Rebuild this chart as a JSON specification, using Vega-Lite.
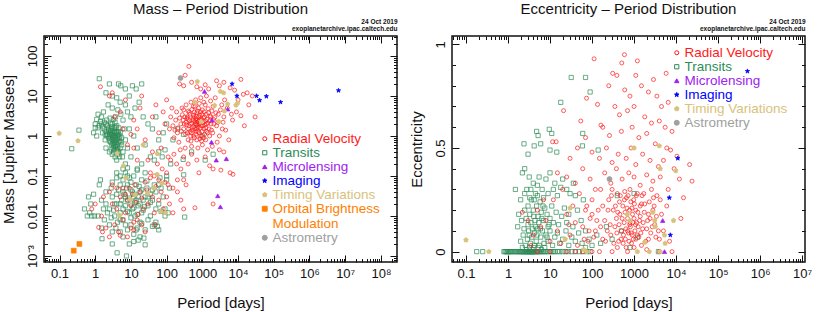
{
"$schema":"https://vega.github.io/schema/vega-lite/v6.json",
"padding":{"left":0,"top":0,"right":0,"bottom":0},
"spacing":9,
"background":"white",
"config":{"font":"Liberation Sans","view":{"stroke":"#111","strokeWidth":1.5},
"axis":{"domain":false,"grid":false,"tickColor":"#111","tickWidth":1,"labelColor":"#111","titleColor":"#111","labelFont":"Liberation Sans","titleFont":"Liberation Sans","labelFontSize":13,"titleFontSize":15,"titleFontWeight":"normal","labelOverlap":false,"labelFlush":false},
"title":{"fontSize":15,"fontWeight":"normal","font":"Liberation Sans","color":"#111"}},
"datasets":{
"mp":[
{"p":2.5,"m":1.0,"t":"TR"},{"p":3.0,"m":0.8,"t":"TR"},{"p":3.5,"m":1.2,"t":"TR"},{"p":4.0,"m":0.6,"t":"TR"},{"p":3.2,"m":0.5,"t":"TR"},{"p":2.8,"m":1.5,"t":"TR"},{"p":3.8,"m":0.9,"t":"TR"},{"p":4.5,"m":1.1,"t":"TR"},{"p":3.0,"m":2.0,"t":"TR"},{"p":2.2,"m":1.8,"t":"TR"},{"p":2.0,"m":1.3,"t":"TR"},{"p":1.5,"m":2.0,"t":"TR"},{"p":1.3,"m":1.8,"t":"TR"},{"p":1.8,"m":1.5,"t":"TR"},{"p":2.7,"m":0.7,"t":"TR"},{"p":3.3,"m":0.4,"t":"TR"},{"p":4.2,"m":0.35,"t":"TR"},{"p":4.8,"m":0.3,"t":"TR"},{"p":5.0,"m":0.5,"t":"TR"},{"p":3.6,"m":0.3,"t":"TR"},{"p":4.0,"m":0.25,"t":"TR"},{"p":3.9,"m":0.45,"t":"TR"},{"p":3.4,"m":0.75,"t":"TR"},{"p":2.9,"m":1.1,"t":"TR"},{"p":2.4,"m":0.9,"t":"TR"},{"p":2.1,"m":2.5,"t":"TR"},{"p":1.9,"m":0.8,"t":"TR"},{"p":1.6,"m":1.2,"t":"TR"},{"p":1.4,"m":2.3,"t":"TR"},{"p":1.2,"m":1.6,"t":"TR"},{"p":5.5,"m":0.9,"t":"TR"},{"p":6.0,"m":0.4,"t":"TR"},{"p":4.6,"m":1.6,"t":"TR"},{"p":3.1,"m":1.4,"t":"TR"},{"p":2.6,"m":2.8,"t":"TR"},{"p":3.7,"m":3.0,"t":"TR"},{"p":4.3,"m":4.5,"t":"TR"},{"p":5.2,"m":3.5,"t":"TR"},{"p":3.0,"m":5.0,"t":"TR"},{"p":2.3,"m":6.0,"t":"TR"},{"p":1.7,"m":4.0,"t":"TR"},{"p":1.1,"m":1.0,"t":"TR"},{"p":1.0,"m":2.0,"t":"TR"},{"p":2.0,"m":0.5,"t":"TR"},{"p":2.5,"m":0.4,"t":"TR"},{"p":3.5,"m":0.65,"t":"TR"},{"p":4.1,"m":0.8,"t":"TR"},{"p":3.3,"m":1.0,"t":"TR"},{"p":3.9,"m":1.3,"t":"TR"},{"p":2.6,"m":1.25,"t":"TR"},{"p":2.9,"m":0.6,"t":"TR"},{"p":3.7,"m":0.55,"t":"TR"},{"p":4.4,"m":0.7,"t":"TR"},{"p":5.0,"m":1.2,"t":"TR"},{"p":6.5,"m":1.5,"t":"TR"},{"p":7.0,"m":0.8,"t":"TR"},{"p":8.0,"m":0.5,"t":"TR"},{"p":9.0,"m":1.5,"t":"TR"},{"p":10,"m":3,"t":"TR"},{"p":12,"m":1,"t":"TR"},{"p":15,"m":0.5,"t":"TR"},{"p":6,"m":2.5,"t":"TR"},{"p":8,"m":4,"t":"TR"},{"p":5,"m":7,"t":"TR"},{"p":4,"m":9,"t":"TR"},{"p":3,"m":10,"t":"TR"},{"p":2,"m":12,"t":"TR"},{"p":1.3,"m":27,"t":"TR"},{"p":2.5,"m":20,"t":"TR"},{"p":4.5,"m":20,"t":"TR"},{"p":5.2,"m":18,"t":"TR"},{"p":7,"m":15,"t":"TR"},{"p":11,"m":18,"t":"TR"},{"p":14,"m":15,"t":"TR"},{"p":20,"m":20,"t":"TR"},{"p":9,"m":10,"t":"TR"},{"p":7,"m":6,"t":"TR"},{"p":13,"m":5,"t":"TR"},{"p":17,"m":7,"t":"TR"},{"p":22,"m":3,"t":"TR"},{"p":30,"m":2,"t":"TR"},{"p":40,"m":1.5,"t":"TR"},{"p":50,"m":3,"t":"TR"},{"p":60,"m":0.8,"t":"TR"},{"p":80,"m":1.2,"t":"TR"},{"p":100,"m":2,"t":"TR"},{"p":150,"m":0.8,"t":"TR"},{"p":200,"m":1.5,"t":"TR"},{"p":300,"m":1.1,"t":"TR"},{"p":500,"m":0.4,"t":"TR"},{"p":700,"m":2,"t":"TR"},{"p":1000,"m":1,"t":"TR"},{"p":1200,"m":0.25,"t":"TR"},{"p":2000,"m":0.35,"t":"TR"},{"p":25,"m":0.6,"t":"TR"},{"p":35,"m":0.3,"t":"TR"},{"p":45,"m":0.25,"t":"TR"},{"p":60,"m":0.4,"t":"TR"},{"p":75,"m":0.3,"t":"TR"},{"p":20,"m":0.2,"t":"TR"},{"p":15,"m":0.15,"t":"TR"},{"p":10,"m":0.3,"t":"TR"},{"p":7,"m":0.2,"t":"TR"},{"p":6,"m":0.15,"t":"TR"},{"p":4,"m":0.12,"t":"TR"},{"p":5,"m":0.1,"t":"TR"},{"p":8,"m":0.1,"t":"TR"},{"p":100,"m":0.08,"t":"TR"},{"p":130,"m":0.2,"t":"TR"},{"p":90,"m":0.45,"t":"TR"},{"p":1.0,"m":1.6,"t":"TR"},{"p":0.9,"m":1.2,"t":"TR"},{"p":1.1,"m":2.6,"t":"TR"},{"p":1.5,"m":3.0,"t":"TR"},{"p":1.2,"m":3.5,"t":"TR"},
{"p":3.2,"m":0.9,"t":"TR"},{"p":3.6,"m":1.0,"t":"TR"},{"p":2.8,"m":0.85,"t":"TR"},{"p":4.2,"m":1.05,"t":"TR"},{"p":3.4,"m":1.6,"t":"TR"},{"p":3.0,"m":1.2,"t":"TR"},{"p":2.2,"m":1.1,"t":"TR"},{"p":3.8,"m":0.7,"t":"TR"},{"p":4.6,"m":0.9,"t":"TR"},{"p":3.5,"m":0.45,"t":"TR"},{"p":4.3,"m":0.5,"t":"TR"},{"p":2.4,"m":1.4,"t":"TR"},{"p":1.8,"m":2.2,"t":"TR"},{"p":3.1,"m":0.65,"t":"TR"},{"p":4.8,"m":0.75,"t":"TR"},{"p":3.6,"m":2.2,"t":"TR"},{"p":2.7,"m":2.0,"t":"TR"},{"p":4.0,"m":1.8,"t":"TR"},{"p":5.5,"m":0.6,"t":"TR"},{"p":3.0,"m":0.35,"t":"TR"},{"p":4.5,"m":0.4,"t":"TR"},{"p":5.8,"m":0.3,"t":"TR"},{"p":2.1,"m":1.0,"t":"TR"},{"p":1.6,"m":1.7,"t":"TR"},
{"p":2.6,"m":1.1,"t":"TR"},{"p":3.1,"m":0.95,"t":"TR"},{"p":3.4,"m":1.3,"t":"TR"},{"p":3.7,"m":0.8,"t":"TR"},{"p":2.9,"m":1.7,"t":"TR"},{"p":4.1,"m":1.2,"t":"TR"},{"p":3.3,"m":0.6,"t":"TR"},{"p":2.5,"m":0.75,"t":"TR"},{"p":2.3,"m":1.5,"t":"TR"},{"p":3.8,"m":1.6,"t":"TR"},{"p":4.4,"m":1.3,"t":"TR"},{"p":2.0,"m":2.0,"t":"TR"},{"p":1.9,"m":1.1,"t":"TR"},{"p":3.6,"m":0.55,"t":"TR"},{"p":4.2,"m":0.45,"t":"TR"},{"p":3.2,"m":2.6,"t":"TR"},{"p":2.8,"m":0.45,"t":"TR"},{"p":5.2,"m":0.7,"t":"TR"},{"p":4.9,"m":1.0,"t":"TR"},{"p":3.5,"m":0.9,"t":"TR"},{"p":2.7,"m":1.35,"t":"TR"},{"p":3.0,"m":1.05,"t":"TR"},
{"p":0.35,"m":1.4,"t":"TR"},{"p":0.22,"m":0.48,"t":"TR"},{"p":0.5,"m":0.015,"t":"TR"},{"p":0.6,"m":0.01,"t":"TR"},{"p":0.8,"m":0.01,"t":"TR"},{"p":0.95,"m":0.01,"t":"TR"},{"p":0.65,"m":0.03,"t":"TR"},{"p":0.9,"m":0.035,"t":"TR"},{"p":0.75,"m":0.02,"t":"TR"},{"p":1.3,"m":0.06,"t":"TR"},{"p":1.4,"m":0.08,"t":"TR"},{"p":0.7,"m":0.012,"t":"TR"},
{"p":2,"m":0.02,"t":"TR"},{"p":2.5,"m":0.015,"t":"TR"},{"p":3,"m":0.03,"t":"TR"},{"p":3.5,"m":0.01,"t":"TR"},{"p":4,"m":0.02,"t":"TR"},{"p":4.5,"m":0.045,"t":"TR"},{"p":5,"m":0.012,"t":"TR"},{"p":5.5,"m":0.025,"t":"TR"},{"p":6,"m":0.008,"t":"TR"},{"p":6.5,"m":0.035,"t":"TR"},{"p":7,"m":0.018,"t":"TR"},{"p":7.5,"m":0.05,"t":"TR"},{"p":8,"m":0.013,"t":"TR"},{"p":9,"m":0.028,"t":"TR"},{"p":10,"m":0.009,"t":"TR"},{"p":11,"m":0.04,"t":"TR"},{"p":12,"m":0.016,"t":"TR"},{"p":13,"m":0.022,"t":"TR"},{"p":14,"m":0.06,"t":"TR"},{"p":15,"m":0.011,"t":"TR"},{"p":16,"m":0.03,"t":"TR"},{"p":18,"m":0.02,"t":"TR"},{"p":20,"m":0.045,"t":"TR"},{"p":22,"m":0.014,"t":"TR"},{"p":25,"m":0.03,"t":"TR"},{"p":28,"m":0.05,"t":"TR"},{"p":30,"m":0.018,"t":"TR"},{"p":35,"m":0.035,"t":"TR"},{"p":40,"m":0.025,"t":"TR"},{"p":45,"m":0.06,"t":"TR"},{"p":50,"m":0.04,"t":"TR"},{"p":60,"m":0.02,"t":"TR"},{"p":70,"m":0.05,"t":"TR"},{"p":80,"m":0.03,"t":"TR"},{"p":90,"m":0.015,"t":"TR"},{"p":100,"m":0.1,"t":"TR"},{"p":3,"m":0.07,"t":"TR"},{"p":4,"m":0.09,"t":"TR"},{"p":5,"m":0.06,"t":"TR"},{"p":6,"m":0.08,"t":"TR"},{"p":7,"m":0.12,"t":"TR"},{"p":8,"m":0.16,"t":"TR"},{"p":9,"m":0.09,"t":"TR"},{"p":10,"m":0.07,"t":"TR"},{"p":12,"m":0.1,"t":"TR"},{"p":15,"m":0.14,"t":"TR"},{"p":20,"m":0.08,"t":"TR"},{"p":25,"m":0.12,"t":"TR"},{"p":3.8,"m":0.005,"t":"TR"},{"p":4.2,"m":0.007,"t":"TR"},{"p":5,"m":0.004,"t":"TR"},{"p":6,"m":0.003,"t":"TR"},{"p":8,"m":0.0045,"t":"TR"},{"p":10,"m":0.006,"t":"TR"},{"p":12,"m":0.0035,"t":"TR"},{"p":15,"m":0.005,"t":"TR"},{"p":20,"m":0.0065,"t":"TR"},{"p":25,"m":0.0045,"t":"TR"},{"p":30,"m":0.008,"t":"TR"},{"p":40,"m":0.0055,"t":"TR"},{"p":50,"m":0.007,"t":"TR"},{"p":60,"m":0.0045,"t":"TR"},{"p":2.5,"m":0.006,"t":"TR"},{"p":3,"m":0.004,"t":"TR"},{"p":1.8,"m":0.008,"t":"TR"},{"p":1.5,"m":0.005,"t":"TR"},{"p":1.2,"m":0.01,"t":"TR"},{"p":1.5,"m":0.025,"t":"TR"},{"p":2,"m":0.04,"t":"TR"},{"p":2.8,"m":0.05,"t":"TR"},{"p":9,"m":0.002,"t":"TR"},{"p":4.1,"m":0.0012,"t":"TR"},{"p":7.5,"m":0.001,"t":"TR"},{"p":1.55,"m":0.0027,"t":"TR"},{"p":3,"m":0.002,"t":"TR"},{"p":23,"m":0.0028,"t":"TR"},{"p":25,"m":0.0019,"t":"TR"},{"p":12,"m":0.0023,"t":"TR"},{"p":16,"m":0.0025,"t":"TR"},{"p":18,"m":0.003,"t":"TR"},{"p":55,"m":0.0055,"t":"TR"},{"p":70,"m":0.013,"t":"TR"},{"p":90,"m":0.01,"t":"TR"},{"p":120,"m":0.05,"t":"TR"},{"p":65,"m":0.09,"t":"TR"},{"p":110,"m":0.012,"t":"TR"},{"p":320,"m":0.0094,"t":"TR"},{"p":300,"m":0.107,"t":"TR"},{"p":290,"m":0.26,"t":"TR"},
{"p":5,"m":0.02,"t":"TR"},{"p":6,"m":0.015,"t":"TR"},{"p":7,"m":0.03,"t":"TR"},{"p":8,"m":0.025,"t":"TR"},{"p":9,"m":0.012,"t":"TR"},{"p":10,"m":0.02,"t":"TR"},{"p":11,"m":0.015,"t":"TR"},{"p":12,"m":0.03,"t":"TR"},{"p":13,"m":0.01,"t":"TR"},{"p":14,"m":0.025,"t":"TR"},{"p":16,"m":0.018,"t":"TR"},{"p":18,"m":0.04,"t":"TR"},{"p":20,"m":0.012,"t":"TR"},{"p":22,"m":0.025,"t":"TR"},{"p":24,"m":0.017,"t":"TR"},{"p":30,"m":0.03,"t":"TR"},{"p":35,"m":0.022,"t":"TR"},{"p":4,"m":0.035,"t":"TR"},{"p":3.5,"m":0.02,"t":"TR"},{"p":6,"m":0.04,"t":"TR"},{"p":8,"m":0.06,"t":"TR"},{"p":10,"m":0.045,"t":"TR"},{"p":13,"m":0.035,"t":"TR"},{"p":17,"m":0.055,"t":"TR"},{"p":28,"m":0.075,"t":"TR"},{"p":40,"m":0.045,"t":"TR"},{"p":50,"m":0.015,"t":"TR"},{"p":60,"m":0.06,"t":"TR"},{"p":45,"m":0.006,"t":"TR"},{"p":35,"m":0.01,"t":"TR"},{"p":18,"m":0.007,"t":"TR"},{"p":14,"m":0.0045,"t":"TR"},{"p":7,"m":0.006,"t":"TR"},{"p":5,"m":0.008,"t":"TR"},{"p":2.2,"m":0.012,"t":"TR"},{"p":1.7,"m":0.015,"t":"TR"},{"p":2.8,"m":0.009,"t":"TR"},{"p":3.3,"m":0.014,"t":"TR"},
{"p":250,"m":2.0,"t":"RV"},{"p":300,"m":1.5,"t":"RV"},{"p":320,"m":3.0,"t":"RV"},{"p":350,"m":2.2,"t":"RV"},{"p":380,"m":1.2,"t":"RV"},{"p":400,"m":2.6,"t":"RV"},{"p":420,"m":1.8,"t":"RV"},{"p":450,"m":3.5,"t":"RV"},{"p":470,"m":1.0,"t":"RV"},{"p":500,"m":2.1,"t":"RV"},{"p":520,"m":1.4,"t":"RV"},{"p":550,"m":2.8,"t":"RV"},{"p":580,"m":1.7,"t":"RV"},{"p":600,"m":4.0,"t":"RV"},{"p":620,"m":2.3,"t":"RV"},{"p":650,"m":1.1,"t":"RV"},{"p":680,"m":3.1,"t":"RV"},{"p":700,"m":1.9,"t":"RV"},{"p":720,"m":2.5,"t":"RV"},{"p":750,"m":1.3,"t":"RV"},{"p":780,"m":5.0,"t":"RV"},{"p":800,"m":2.0,"t":"RV"},{"p":850,"m":3.3,"t":"RV"},{"p":880,"m":1.6,"t":"RV"},{"p":900,"m":2.7,"t":"RV"},{"p":950,"m":1.0,"t":"RV"},{"p":1000,"m":4.5,"t":"RV"},{"p":1050,"m":2.2,"t":"RV"},{"p":1100,"m":1.5,"t":"RV"},{"p":1150,"m":3.0,"t":"RV"},{"p":1200,"m":6.0,"t":"RV"},{"p":1300,"m":2.0,"t":"RV"},{"p":1400,"m":1.2,"t":"RV"},{"p":1500,"m":3.8,"t":"RV"},{"p":1600,"m":2.4,"t":"RV"},{"p":1800,"m":1.4,"t":"RV"},{"p":2000,"m":5.5,"t":"RV"},{"p":2200,"m":2.9,"t":"RV"},{"p":2500,"m":1.8,"t":"RV"},{"p":2800,"m":3.5,"t":"RV"},{"p":3000,"m":1.0,"t":"RV"},{"p":1100,"m":0.9,"t":"RV"},{"p":850,"m":0.85,"t":"RV"},{"p":600,"m":0.9,"t":"RV"},{"p":400,"m":0.8,"t":"RV"},{"p":300,"m":4.5,"t":"RV"},{"p":350,"m":6,"t":"RV"},{"p":200,"m":1.2,"t":"RV"},{"p":180,"m":2.5,"t":"RV"},{"p":150,"m":1.8,"t":"RV"},{"p":130,"m":3.0,"t":"RV"},{"p":160,"m":0.9,"t":"RV"},{"p":220,"m":0.7,"t":"RV"},{"p":270,"m":5,"t":"RV"},{"p":480,"m":7,"t":"RV"},{"p":650,"m":8,"t":"RV"},{"p":900,"m":9,"t":"RV"},{"p":1300,"m":10,"t":"RV"},{"p":1700,"m":7.5,"t":"RV"},{"p":2300,"m":9,"t":"RV"},{"p":3500,"m":6,"t":"RV"},{"p":4200,"m":8,"t":"RV"},{"p":5000,"m":5,"t":"RV"},{"p":6500,"m":3.5,"t":"RV"},{"p":3800,"m":2.2,"t":"RV"},{"p":4500,"m":1.4,"t":"RV"},{"p":5500,"m":0.8,"t":"RV"},{"p":2600,"m":0.7,"t":"RV"},{"p":1900,"m":0.55,"t":"RV"},{"p":1400,"m":0.45,"t":"RV"},{"p":1000,"m":0.6,"t":"RV"},{"p":750,"m":0.5,"t":"RV"},{"p":500,"m":0.55,"t":"RV"},{"p":330,"m":0.5,"t":"RV"},{"p":240,"m":0.45,"t":"RV"},
{"p":360,"m":1.9,"t":"RV"},{"p":440,"m":2.4,"t":"RV"},{"p":530,"m":1.6,"t":"RV"},{"p":560,"m":3.3,"t":"RV"},{"p":640,"m":2.0,"t":"RV"},{"p":690,"m":1.5,"t":"RV"},{"p":760,"m":2.3,"t":"RV"},{"p":820,"m":1.2,"t":"RV"},{"p":960,"m":2.5,"t":"RV"},{"p":1020,"m":1.8,"t":"RV"},{"p":1250,"m":1.6,"t":"RV"},{"p":1350,"m":2.6,"t":"RV"},{"p":450,"m":1.3,"t":"RV"},{"p":700,"m":3.8,"t":"RV"},{"p":380,"m":3.0,"t":"RV"},{"p":290,"m":2.5,"t":"RV"},{"p":1150,"m":1.1,"t":"RV"},{"p":1600,"m":1.0,"t":"RV"},{"p":2100,"m":2.0,"t":"RV"},{"p":1700,"m":3.0,"t":"RV"},
{"p":260,"m":1.3,"t":"RV"},{"p":275,"m":3.4,"t":"RV"},{"p":310,"m":2.0,"t":"RV"},{"p":340,"m":1.1,"t":"RV"},{"p":370,"m":2.8,"t":"RV"},{"p":410,"m":1.5,"t":"RV"},{"p":430,"m":3.9,"t":"RV"},{"p":460,"m":2.0,"t":"RV"},{"p":490,"m":1.2,"t":"RV"},{"p":510,"m":4.6,"t":"RV"},{"p":540,"m":2.5,"t":"RV"},{"p":570,"m":1.0,"t":"RV"},{"p":590,"m":3.0,"t":"RV"},{"p":610,"m":1.5,"t":"RV"},{"p":630,"m":5.5,"t":"RV"},{"p":660,"m":2.7,"t":"RV"},{"p":670,"m":1.3,"t":"RV"},{"p":710,"m":2.2,"t":"RV"},{"p":730,"m":4.2,"t":"RV"},{"p":770,"m":1.7,"t":"RV"},{"p":790,"m":3.0,"t":"RV"},{"p":830,"m":2.5,"t":"RV"},{"p":860,"m":1.0,"t":"RV"},{"p":890,"m":4.0,"t":"RV"},{"p":920,"m":1.8,"t":"RV"},{"p":970,"m":3.5,"t":"RV"},{"p":990,"m":1.3,"t":"RV"},{"p":1080,"m":2.8,"t":"RV"},{"p":1120,"m":4.0,"t":"RV"},{"p":1180,"m":1.9,"t":"RV"},{"p":1220,"m":2.4,"t":"RV"},{"p":1280,"m":3.5,"t":"RV"},{"p":1320,"m":1.3,"t":"RV"},{"p":1420,"m":2.1,"t":"RV"},{"p":1450,"m":4.8,"t":"RV"},{"p":1550,"m":1.5,"t":"RV"},{"p":1650,"m":3.2,"t":"RV"},{"p":1750,"m":2.0,"t":"RV"},{"p":1850,"m":4.2,"t":"RV"},{"p":1950,"m":1.2,"t":"RV"},{"p":2050,"m":2.6,"t":"RV"},{"p":2400,"m":3.8,"t":"RV"},{"p":2700,"m":2.2,"t":"RV"},{"p":3200,"m":4.5,"t":"RV"},{"p":3600,"m":1.5,"t":"RV"},{"p":4000,"m":3.0,"t":"RV"},{"p":230,"m":2.8,"t":"RV"},{"p":210,"m":1.6,"t":"RV"},{"p":190,"m":4,"t":"RV"},{"p":170,"m":1.4,"t":"RV"},{"p":480,"m":0.75,"t":"RV"},{"p":700,"m":0.8,"t":"RV"},{"p":950,"m":0.75,"t":"RV"},{"p":1250,"m":0.8,"t":"RV"},{"p":560,"m":5.5,"t":"RV"},{"p":820,"m":6.5,"t":"RV"},{"p":1100,"m":7,"t":"RV"},{"p":400,"m":4.2,"t":"RV"},
{"p":420,"m":55,"t":"RV"},{"p":330,"m":33,"t":"RV"},{"p":230,"m":20,"t":"RV"},{"p":300,"m":18,"t":"RV"},{"p":500,"m":22,"t":"RV"},{"p":700,"m":17,"t":"RV"},{"p":900,"m":15,"t":"RV"},{"p":1200,"m":19,"t":"RV"},{"p":1500,"m":15,"t":"RV"},{"p":2500,"m":24,"t":"RV"},{"p":3000,"m":18,"t":"RV"},{"p":4000,"m":22,"t":"RV"},{"p":6000,"m":16,"t":"RV"},{"p":8000,"m":14,"t":"RV"},{"p":12000,"m":26,"t":"RV"},{"p":18000,"m":12,"t":"RV"},{"p":25000,"m":10,"t":"RV"},{"p":14000,"m":11,"t":"RV"},{"p":10000,"m":8,"t":"RV"},{"p":20000,"m":6,"t":"RV"},{"p":30000,"m":3,"t":"RV"},{"p":12000,"m":3.2,"t":"RV"},{"p":9000,"m":4,"t":"RV"},{"p":15000,"m":1.8,"t":"RV"},{"p":7000,"m":2.5,"t":"RV"},{"p":6000,"m":0.12,"t":"RV"},{"p":4000,"m":0.4,"t":"RV"},{"p":7200,"m":0.11,"t":"RV"},{"p":3300,"m":0.14,"t":"RV"},
{"p":20,"m":10,"t":"RV"},{"p":15,"m":1.5,"t":"RV"},{"p":25,"m":0.8,"t":"RV"},{"p":40,"m":3,"t":"RV"},{"p":50,"m":6,"t":"RV"},{"p":60,"m":1.2,"t":"RV"},{"p":70,"m":0.5,"t":"RV"},{"p":80,"m":4,"t":"RV"},{"p":90,"m":2,"t":"RV"},{"p":100,"m":8,"t":"RV"},{"p":110,"m":0.3,"t":"RV"},{"p":120,"m":1.5,"t":"RV"},{"p":140,"m":5,"t":"RV"},{"p":40,"m":0.4,"t":"RV"},{"p":30,"m":0.25,"t":"RV"},{"p":55,"m":0.2,"t":"RV"},{"p":75,"m":0.15,"t":"RV"},{"p":100,"m":0.12,"t":"RV"},{"p":130,"m":0.25,"t":"RV"},{"p":160,"m":0.35,"t":"RV"},{"p":190,"m":0.2,"t":"RV"},{"p":250,"m":0.15,"t":"RV"},{"p":300,"m":0.3,"t":"RV"},{"p":400,"m":0.2,"t":"RV"},{"p":500,"m":0.35,"t":"RV"},{"p":700,"m":0.25,"t":"RV"},{"p":800,"m":0.12,"t":"RV"},{"p":1200,"m":0.3,"t":"RV"},{"p":1600,"m":0.18,"t":"RV"},{"p":2000,"m":0.15,"t":"RV"},{"p":3000,"m":0.45,"t":"RV"},{"p":200,"m":0.08,"t":"RV"},{"p":350,"m":0.06,"t":"RV"},{"p":150,"m":0.05,"t":"RV"},{"p":90,"m":0.07,"t":"RV"},{"p":60,"m":0.08,"t":"RV"},{"p":45,"m":0.1,"t":"RV"},{"p":35,"m":0.12,"t":"RV"},{"p":15,"m":0.25,"t":"RV"},{"p":12,"m":0.5,"t":"RV"},{"p":8,"m":0.6,"t":"RV"},{"p":10,"m":1.1,"t":"RV"},{"p":6,"m":1.5,"t":"RV"},{"p":5,"m":4,"t":"RV"},{"p":3.5,"m":3,"t":"RV"},{"p":2.5,"m":10,"t":"RV"},{"p":1.4,"m":17,"t":"RV"},{"p":3,"m":12,"t":"RV"},{"p":7,"m":8,"t":"RV"},{"p":12,"m":2.5,"t":"RV"},{"p":18,"m":5,"t":"RV"},
{"p":3,"m":0.02,"t":"RV"},{"p":4,"m":0.015,"t":"RV"},{"p":5,"m":0.03,"t":"RV"},{"p":6,"m":0.008,"t":"RV"},{"p":7,"m":0.012,"t":"RV"},{"p":8,"m":0.025,"t":"RV"},{"p":9,"m":0.05,"t":"RV"},{"p":10,"m":0.018,"t":"RV"},{"p":11,"m":0.035,"t":"RV"},{"p":12,"m":0.007,"t":"RV"},{"p":13,"m":0.06,"t":"RV"},{"p":14,"m":0.022,"t":"RV"},{"p":16,"m":0.011,"t":"RV"},{"p":18,"m":0.04,"t":"RV"},{"p":20,"m":0.028,"t":"RV"},{"p":22,"m":0.015,"t":"RV"},{"p":25,"m":0.07,"t":"RV"},{"p":28,"m":0.045,"t":"RV"},{"p":30,"m":0.02,"t":"RV"},{"p":35,"m":0.09,"t":"RV"},{"p":40,"m":0.03,"t":"RV"},{"p":45,"m":0.012,"t":"RV"},{"p":50,"m":0.055,"t":"RV"},{"p":60,"m":0.025,"t":"RV"},{"p":70,"m":0.04,"t":"RV"},{"p":80,"m":0.015,"t":"RV"},{"p":100,"m":0.03,"t":"RV"},{"p":120,"m":0.02,"t":"RV"},{"p":150,"m":0.012,"t":"RV"},{"p":200,"m":0.04,"t":"RV"},{"p":250,"m":0.025,"t":"RV"},{"p":300,"m":0.015,"t":"RV"},{"p":2,"m":0.005,"t":"RV"},{"p":2.5,"m":0.003,"t":"RV"},{"p":3.5,"m":0.006,"t":"RV"},{"p":4.5,"m":0.004,"t":"RV"},{"p":5,"m":0.0033,"t":"RV"},{"p":8,"m":0.003,"t":"RV"},{"p":10,"m":0.005,"t":"RV"},{"p":12,"m":0.0045,"t":"RV"},{"p":15,"m":0.008,"t":"RV"},{"p":20,"m":0.006,"t":"RV"},{"p":25,"m":0.004,"t":"RV"},{"p":48,"m":0.006,"t":"RV"},{"p":1.5,"m":0.01,"t":"RV"},{"p":1.25,"m":0.0052,"t":"RV"},{"p":1,"m":0.02,"t":"RV"},{"p":0.8,"m":0.015,"t":"RV"},{"p":1.6,"m":0.004,"t":"RV"},{"p":6,"m":0.05,"t":"RV"},{"p":7,"m":0.035,"t":"RV"},{"p":4,"m":0.05,"t":"RV"},{"p":1.7,"m":0.03,"t":"RV"},{"p":2.5,"m":0.04,"t":"RV"},{"p":3,"m":0.06,"t":"RV"},{"p":620,"m":0.016,"t":"RV"},{"p":300,"m":0.08,"t":"RV"},{"p":110,"m":0.06,"t":"RV"},{"p":2000,"m":0.02,"t":"RV"},
{"p":1150,"m":13,"t":"ML"},{"p":1860,"m":2.5,"t":"ML"},{"p":1800,"m":0.7,"t":"ML"},{"p":2450,"m":0.25,"t":"ML"},{"p":4700,"m":0.27,"t":"ML"},{"p":5100,"m":4.7,"t":"ML"},{"p":2700,"m":0.032,"t":"ML"},{"p":3200,"m":0.017,"t":"ML"},
{"p":6800,"m":20,"t":"IM"},{"p":9300,"m":10,"t":"IM"},{"p":33000,"m":10,"t":"IM"},{"p":40000,"m":7.8,"t":"IM"},{"p":62000,"m":9.8,"t":"IM"},{"p":155000,"m":7,"t":"IM"},{"p":6500000,"m":13.7,"t":"IM"},
{"p":0.098,"m":1.17,"t":"TV"},{"p":0.33,"m":0.76,"t":"TV"},{"p":4.1,"m":0.37,"t":"TV"},{"p":6.2,"m":0.18,"t":"TV"},{"p":7.2,"m":0.09,"t":"TV"},{"p":22,"m":0.6,"t":"TV"},{"p":55,"m":0.36,"t":"TV"},{"p":54,"m":0.11,"t":"TV"},{"p":73,"m":0.066,"t":"TV"},{"p":43,"m":0.05,"t":"TV"},{"p":29,"m":0.037,"t":"TV"},{"p":13,"m":0.034,"t":"TV"},{"p":9.6,"m":0.026,"t":"TV"},{"p":4.8,"m":0.0104,"t":"TV"},{"p":69,"m":0.013,"t":"TV"},{"p":93,"m":0.012,"t":"TV"},{"p":720,"m":23,"t":"TV"},{"p":630,"m":6.9,"t":"TV"},{"p":930,"m":2.3,"t":"TV"},{"p":2200,"m":5.8,"t":"TV"},{"p":3200,"m":13,"t":"TV"},{"p":3950,"m":12,"t":"TV"},{"p":4150,"m":4.2,"t":"TV"},{"p":2900,"m":2.3,"t":"TV"},{"p":8700,"m":5.9,"t":"TV"},{"p":9700,"m":6.6,"t":"TV"},{"p":5100,"m":6.3,"t":"TV"},
{"p":0.25,"m":0.00136,"t":"OB"},{"p":0.36,"m":0.002,"t":"OB"},
{"p":245,"m":28,"t":"AS"}
],
"ep":[
{"p":0.18,"e":0,"t":"TR"},{"p":0.25,"e":0,"t":"TR"},{"p":0.8,"e":0,"t":"TR"},{"p":0.85,"e":0,"t":"TR"},{"p":0.9,"e":0,"t":"TR"},{"p":0.95,"e":0,"t":"TR"},{"p":1.0,"e":0,"t":"TR"},{"p":1.05,"e":0,"t":"TR"},{"p":1.1,"e":0,"t":"TR"},{"p":1.15,"e":0,"t":"TR"},{"p":1.2,"e":0,"t":"TR"},{"p":1.3,"e":0,"t":"TR"},{"p":1.4,"e":0,"t":"TR"},{"p":1.5,"e":0,"t":"TR"},{"p":1.6,"e":0,"t":"TR"},{"p":1.7,"e":0,"t":"TR"},{"p":1.8,"e":0,"t":"TR"},{"p":1.9,"e":0,"t":"TR"},{"p":2.0,"e":0,"t":"TR"},{"p":2.1,"e":0,"t":"TR"},{"p":2.2,"e":0,"t":"TR"},{"p":2.3,"e":0,"t":"TR"},{"p":2.4,"e":0,"t":"TR"},{"p":2.5,"e":0,"t":"TR"},{"p":2.6,"e":0,"t":"TR"},{"p":2.7,"e":0,"t":"TR"},{"p":2.8,"e":0,"t":"TR"},{"p":2.9,"e":0,"t":"TR"},{"p":3.0,"e":0,"t":"TR"},{"p":3.1,"e":0,"t":"TR"},{"p":3.2,"e":0,"t":"TR"},{"p":3.3,"e":0,"t":"TR"},{"p":3.4,"e":0,"t":"TR"},{"p":3.5,"e":0,"t":"TR"},{"p":3.6,"e":0,"t":"TR"},{"p":3.7,"e":0,"t":"TR"},{"p":3.8,"e":0,"t":"TR"},{"p":3.9,"e":0,"t":"TR"},{"p":4.0,"e":0,"t":"TR"},{"p":4.2,"e":0,"t":"TR"},{"p":4.4,"e":0,"t":"TR"},{"p":4.6,"e":0,"t":"TR"},{"p":4.8,"e":0,"t":"TR"},{"p":5.0,"e":0,"t":"TR"},{"p":5.3,"e":0,"t":"TR"},{"p":5.6,"e":0,"t":"TR"},{"p":6.0,"e":0,"t":"TR"},{"p":6.5,"e":0,"t":"TR"},{"p":7,"e":0,"t":"TR"},{"p":7.5,"e":0,"t":"TR"},{"p":8,"e":0,"t":"TR"},{"p":9,"e":0,"t":"TR"},{"p":10,"e":0,"t":"TR"},{"p":11,"e":0,"t":"TR"},{"p":12,"e":0,"t":"TR"},{"p":13,"e":0,"t":"TR"},{"p":15,"e":0,"t":"TR"},{"p":17,"e":0,"t":"TR"},{"p":20,"e":0,"t":"TR"},{"p":23,"e":0,"t":"TR"},{"p":27,"e":0,"t":"TR"},{"p":33,"e":0,"t":"TR"},{"p":40,"e":0,"t":"TR"},{"p":50,"e":0,"t":"TR"},{"p":60,"e":0,"t":"TR"},{"p":75,"e":0,"t":"TR"},{"p":90,"e":0,"t":"TR"},{"p":3800,"e":0,"t":"TR"},
{"p":32,"e":0.84,"t":"TR"},{"p":70,"e":0.84,"t":"TR"},{"p":90,"e":0.77,"t":"TR"},{"p":18,"e":0.72,"t":"TR"},{"p":2.4,"e":0.52,"t":"TR"},{"p":4.8,"e":0.58,"t":"TR"},{"p":5.2,"e":0.56,"t":"TR"},{"p":9.6,"e":0.59,"t":"TR"},{"p":11,"e":0.57,"t":"TR"},{"p":3,"e":0.47,"t":"TR"},{"p":4.2,"e":0.51,"t":"TR"},{"p":6,"e":0.52,"t":"TR"},{"p":10,"e":0.49,"t":"TR"},{"p":14.5,"e":0.48,"t":"TR"},{"p":140,"e":0.49,"t":"TR"},{"p":60,"e":0.57,"t":"TR"},{"p":2.5,"e":0.40,"t":"TR"},{"p":59,"e":0.51,"t":"TR"},{"p":36,"e":0.33,"t":"TR"},{"p":62,"e":0.25,"t":"TR"},
{"p":2.2,"e":0.38,"t":"TR"},{"p":3.2,"e":0.36,"t":"TR"},{"p":3.5,"e":0.3,"t":"TR"},{"p":4,"e":0.33,"t":"TR"},{"p":4.5,"e":0.28,"t":"TR"},{"p":5,"e":0.32,"t":"TR"},{"p":5.5,"e":0.36,"t":"TR"},{"p":6.5,"e":0.3,"t":"TR"},{"p":7,"e":0.26,"t":"TR"},{"p":8,"e":0.35,"t":"TR"},{"p":9,"e":0.28,"t":"TR"},{"p":10,"e":0.38,"t":"TR"},{"p":12,"e":0.3,"t":"TR"},{"p":13,"e":0.33,"t":"TR"},{"p":15,"e":0.27,"t":"TR"},{"p":18,"e":0.31,"t":"TR"},{"p":20,"e":0.35,"t":"TR"},{"p":25,"e":0.3,"t":"TR"},{"p":30,"e":0.28,"t":"TR"},{"p":40,"e":0.27,"t":"TR"},{"p":2,"e":0.25,"t":"TR"},{"p":2.5,"e":0.2,"t":"TR"},{"p":2.8,"e":0.3,"t":"TR"},{"p":3,"e":0.22,"t":"TR"},{"p":3.3,"e":0.18,"t":"TR"},{"p":3.6,"e":0.25,"t":"TR"},{"p":4,"e":0.2,"t":"TR"},{"p":4.4,"e":0.15,"t":"TR"},{"p":4.8,"e":0.22,"t":"TR"},{"p":5.2,"e":0.17,"t":"TR"},{"p":5.8,"e":0.24,"t":"TR"},{"p":6.2,"e":0.19,"t":"TR"},{"p":7,"e":0.15,"t":"TR"},{"p":7.5,"e":0.21,"t":"TR"},{"p":8.5,"e":0.18,"t":"TR"},{"p":9,"e":0.12,"t":"TR"},{"p":10,"e":0.16,"t":"TR"},{"p":11,"e":0.22,"t":"TR"},{"p":12,"e":0.14,"t":"TR"},{"p":14,"e":0.19,"t":"TR"},{"p":16,"e":0.13,"t":"TR"},{"p":19,"e":0.17,"t":"TR"},{"p":22,"e":0.21,"t":"TR"},{"p":25,"e":0.14,"t":"TR"},{"p":28,"e":0.18,"t":"TR"},{"p":35,"e":0.12,"t":"TR"},{"p":45,"e":0.2,"t":"TR"},{"p":55,"e":0.15,"t":"TR"},{"p":70,"e":0.1,"t":"TR"},{"p":1.5,"e":0.3,"t":"TR"},{"p":1.8,"e":0.18,"t":"TR"},{"p":1.7,"e":0.12,"t":"TR"},
{"p":2.1,"e":0.15,"t":"TR"},{"p":2.4,"e":0.11,"t":"TR"},{"p":2.7,"e":0.16,"t":"TR"},{"p":3.0,"e":0.13,"t":"TR"},{"p":3.2,"e":0.08,"t":"TR"},{"p":3.5,"e":0.14,"t":"TR"},{"p":3.8,"e":0.11,"t":"TR"},{"p":4.1,"e":0.17,"t":"TR"},{"p":4.5,"e":0.12,"t":"TR"},{"p":4.9,"e":0.08,"t":"TR"},{"p":5.4,"e":0.14,"t":"TR"},{"p":5.9,"e":0.11,"t":"TR"},{"p":6.4,"e":0.16,"t":"TR"},{"p":2.5,"e":0.28,"t":"TR"},{"p":3.3,"e":0.26,"t":"TR"},{"p":4.2,"e":0.25,"t":"TR"},{"p":5.0,"e":0.27,"t":"TR"},{"p":6.8,"e":0.22,"t":"TR"},{"p":8.5,"e":0.07,"t":"TR"},{"p":9.5,"e":0.13,"t":"TR"},{"p":2.2,"e":0.02,"t":"TR"},{"p":2.75,"e":0.01,"t":"TR"},{"p":3.25,"e":0.02,"t":"TR"},{"p":3.75,"e":0.01,"t":"TR"},{"p":4.25,"e":0.03,"t":"TR"},{"p":5.25,"e":0.02,"t":"TR"},{"p":6.25,"e":0.01,"t":"TR"},{"p":7.5,"e":0.02,"t":"TR"},
{"p":2,"e":0.05,"t":"TR"},{"p":2.3,"e":0.08,"t":"TR"},{"p":2.6,"e":0.03,"t":"TR"},{"p":2.9,"e":0.06,"t":"TR"},{"p":3.1,"e":0.1,"t":"TR"},{"p":3.4,"e":0.04,"t":"TR"},{"p":3.7,"e":0.07,"t":"TR"},{"p":4.1,"e":0.02,"t":"TR"},{"p":4.3,"e":0.09,"t":"TR"},{"p":4.7,"e":0.05,"t":"TR"},{"p":5.1,"e":0.11,"t":"TR"},{"p":5.6,"e":0.03,"t":"TR"},{"p":6,"e":0.07,"t":"TR"},{"p":6.6,"e":0.1,"t":"TR"},{"p":7.2,"e":0.04,"t":"TR"},{"p":8,"e":0.08,"t":"TR"},{"p":9,"e":0.05,"t":"TR"},{"p":10,"e":0.1,"t":"TR"},{"p":11.5,"e":0.03,"t":"TR"},{"p":13,"e":0.07,"t":"TR"},{"p":15,"e":0.09,"t":"TR"},{"p":17,"e":0.04,"t":"TR"},{"p":20,"e":0.06,"t":"TR"},{"p":24,"e":0.1,"t":"TR"},{"p":28,"e":0.03,"t":"TR"},{"p":33,"e":0.07,"t":"TR"},{"p":40,"e":0.05,"t":"TR"},{"p":48,"e":0.09,"t":"TR"},{"p":58,"e":0.04,"t":"TR"},{"p":70,"e":0.02,"t":"TR"},{"p":85,"e":0.06,"t":"TR"},{"p":100,"e":0.03,"t":"TR"},{"p":130,"e":0.08,"t":"TR"},{"p":160,"e":0.04,"t":"TR"},{"p":220,"e":0.12,"t":"TR"},{"p":300,"e":0.06,"t":"TR"},{"p":500,"e":0.1,"t":"TR"},{"p":800,"e":0.02,"t":"TR"},{"p":1200,"e":0.07,"t":"TR"},{"p":1000,"e":0.28,"t":"TR"},{"p":400,"e":0.27,"t":"TR"},
{"p":112,"e":0.93,"t":"RV"},{"p":590,"e":0.95,"t":"RV"},{"p":1200,"e":0.92,"t":"RV"},{"p":510,"e":0.91,"t":"RV"},{"p":5800,"e":0.86,"t":"RV"},{"p":310,"e":0.86,"t":"RV"},{"p":390,"e":0.85,"t":"RV"},{"p":1100,"e":0.85,"t":"RV"},{"p":2900,"e":0.83,"t":"RV"},{"p":74,"e":0.74,"t":"RV"},{"p":21,"e":0.68,"t":"RV"},{"p":135,"e":0.71,"t":"RV"},{"p":54,"e":0.63,"t":"RV"},{"p":163,"e":0.61,"t":"RV"},{"p":11.5,"e":0.53,"t":"RV"},{"p":14,"e":0.53,"t":"RV"},{"p":10500,"e":0.46,"t":"RV"},{"p":21000,"e":0.42,"t":"RV"},{"p":15000,"e":0.26,"t":"RV"},{"p":13000,"e":0.16,"t":"RV"},{"p":24000,"e":0.34,"t":"RV"},{"p":7400,"e":0.49,"t":"RV"},
{"p":250,"e":0.8,"t":"RV"},{"p":600,"e":0.78,"t":"RV"},{"p":800,"e":0.75,"t":"RV"},{"p":1500,"e":0.8,"t":"RV"},{"p":2200,"e":0.77,"t":"RV"},{"p":3500,"e":0.75,"t":"RV"},{"p":4500,"e":0.7,"t":"RV"},{"p":6500,"e":0.72,"t":"RV"},{"p":350,"e":0.7,"t":"RV"},{"p":450,"e":0.66,"t":"RV"},{"p":700,"e":0.68,"t":"RV"},{"p":1000,"e":0.7,"t":"RV"},{"p":1800,"e":0.65,"t":"RV"},{"p":2600,"e":0.62,"t":"RV"},{"p":4000,"e":0.63,"t":"RV"},{"p":5500,"e":0.6,"t":"RV"},{"p":8000,"e":0.58,"t":"RV"},{"p":180,"e":0.6,"t":"RV"},{"p":260,"e":0.56,"t":"RV"},{"p":500,"e":0.58,"t":"RV"},{"p":900,"e":0.6,"t":"RV"},{"p":1300,"e":0.55,"t":"RV"},{"p":2000,"e":0.57,"t":"RV"},{"p":3200,"e":0.52,"t":"RV"},{"p":6000,"e":0.5,"t":"RV"},{"p":30,"e":0.45,"t":"RV"},{"p":45,"e":0.5,"t":"RV"},{"p":70,"e":0.55,"t":"RV"},{"p":100,"e":0.48,"t":"RV"},{"p":150,"e":0.45,"t":"RV"},{"p":220,"e":0.5,"t":"RV"},{"p":300,"e":0.43,"t":"RV"},{"p":420,"e":0.47,"t":"RV"},{"p":650,"e":0.45,"t":"RV"},{"p":850,"e":0.5,"t":"RV"},{"p":1100,"e":0.42,"t":"RV"},{"p":1600,"e":0.47,"t":"RV"},{"p":2400,"e":0.44,"t":"RV"},{"p":3800,"e":0.41,"t":"RV"},{"p":5000,"e":0.44,"t":"RV"},{"p":9000,"e":0.4,"t":"RV"},{"p":15,"e":0.38,"t":"RV"},{"p":25,"e":0.36,"t":"RV"},{"p":40,"e":0.33,"t":"RV"},{"p":60,"e":0.4,"t":"RV"},{"p":90,"e":0.35,"t":"RV"},{"p":120,"e":0.3,"t":"RV"},{"p":200,"e":0.38,"t":"RV"},{"p":280,"e":0.33,"t":"RV"},{"p":380,"e":0.4,"t":"RV"},{"p":520,"e":0.35,"t":"RV"},{"p":750,"e":0.38,"t":"RV"},{"p":1000,"e":0.36,"t":"RV"},{"p":1400,"e":0.32,"t":"RV"},{"p":2000,"e":0.37,"t":"RV"},{"p":2800,"e":0.34,"t":"RV"},{"p":4200,"e":0.36,"t":"RV"},{"p":6500,"e":0.3,"t":"RV"},{"p":12000,"e":0.35,"t":"RV"},
{"p":200,"e":0.15,"t":"RV"},{"p":250,"e":0.25,"t":"RV"},{"p":280,"e":0.08,"t":"RV"},{"p":320,"e":0.2,"t":"RV"},{"p":350,"e":0.12,"t":"RV"},{"p":400,"e":0.28,"t":"RV"},{"p":430,"e":0.05,"t":"RV"},{"p":460,"e":0.18,"t":"RV"},{"p":500,"e":0.1,"t":"RV"},{"p":540,"e":0.22,"t":"RV"},{"p":580,"e":0.14,"t":"RV"},{"p":620,"e":0.06,"t":"RV"},{"p":660,"e":0.26,"t":"RV"},{"p":700,"e":0.16,"t":"RV"},{"p":740,"e":0.09,"t":"RV"},{"p":780,"e":0.2,"t":"RV"},{"p":820,"e":0.12,"t":"RV"},{"p":870,"e":0.04,"t":"RV"},{"p":920,"e":0.18,"t":"RV"},{"p":980,"e":0.25,"t":"RV"},{"p":1050,"e":0.1,"t":"RV"},{"p":1100,"e":0.2,"t":"RV"},{"p":1150,"e":0.14,"t":"RV"},{"p":1200,"e":0.28,"t":"RV"},{"p":1300,"e":0.07,"t":"RV"},{"p":1400,"e":0.17,"t":"RV"},{"p":1500,"e":0.23,"t":"RV"},{"p":1600,"e":0.11,"t":"RV"},{"p":1750,"e":0.19,"t":"RV"},{"p":1900,"e":0.05,"t":"RV"},{"p":2100,"e":0.15,"t":"RV"},{"p":2300,"e":0.24,"t":"RV"},{"p":2500,"e":0.09,"t":"RV"},{"p":2800,"e":0.2,"t":"RV"},{"p":3100,"e":0.13,"t":"RV"},{"p":3500,"e":0.27,"t":"RV"},{"p":4000,"e":0.06,"t":"RV"},{"p":4500,"e":0.18,"t":"RV"},{"p":5000,"e":0.1,"t":"RV"},{"p":6000,"e":0.22,"t":"RV"},{"p":7000,"e":0.05,"t":"RV"},{"p":300,"e":0.3,"t":"RV"},{"p":450,"e":0.24,"t":"RV"},{"p":600,"e":0.29,"t":"RV"},{"p":800,"e":0.3,"t":"RV"},{"p":1000,"e":0.16,"t":"RV"},{"p":1250,"e":0.12,"t":"RV"},{"p":700,"e":0.1,"t":"RV"},{"p":900,"e":0.08,"t":"RV"},{"p":550,"e":0.04,"t":"RV"},{"p":380,"e":0.16,"t":"RV"},{"p":230,"e":0.1,"t":"RV"},{"p":1700,"e":0.28,"t":"RV"},{"p":2600,"e":0.3,"t":"RV"},{"p":3300,"e":0.07,"t":"RV"},{"p":650,"e":0.02,"t":"RV"},{"p":1000,"e":0.02,"t":"RV"},{"p":1500,"e":0.03,"t":"RV"},{"p":2000,"e":0.01,"t":"RV"},{"p":400,"e":0.02,"t":"RV"},{"p":800,"e":0.14,"t":"RV"},{"p":1100,"e":0.06,"t":"RV"},{"p":1400,"e":0.22,"t":"RV"},{"p":2200,"e":0.18,"t":"RV"},{"p":3000,"e":0.22,"t":"RV"},
{"p":210,"e":0.05,"t":"RV"},{"p":240,"e":0.2,"t":"RV"},{"p":270,"e":0.13,"t":"RV"},{"p":290,"e":0.27,"t":"RV"},{"p":330,"e":0.04,"t":"RV"},{"p":360,"e":0.22,"t":"RV"},{"p":390,"e":0.09,"t":"RV"},{"p":410,"e":0.19,"t":"RV"},{"p":440,"e":0.13,"t":"RV"},{"p":470,"e":0.27,"t":"RV"},{"p":490,"e":0.06,"t":"RV"},{"p":520,"e":0.16,"t":"RV"},{"p":560,"e":0.08,"t":"RV"},{"p":590,"e":0.25,"t":"RV"},{"p":610,"e":0.19,"t":"RV"},{"p":640,"e":0.11,"t":"RV"},{"p":680,"e":0.21,"t":"RV"},{"p":720,"e":0.27,"t":"RV"},{"p":760,"e":0.05,"t":"RV"},{"p":790,"e":0.13,"t":"RV"},{"p":840,"e":0.24,"t":"RV"},{"p":860,"e":0.09,"t":"RV"},{"p":890,"e":0.21,"t":"RV"},{"p":940,"e":0.14,"t":"RV"},{"p":960,"e":0.06,"t":"RV"},{"p":1020,"e":0.23,"t":"RV"},{"p":1080,"e":0.13,"t":"RV"},{"p":1130,"e":0.27,"t":"RV"},{"p":1180,"e":0.08,"t":"RV"},{"p":1230,"e":0.19,"t":"RV"},{"p":1350,"e":0.15,"t":"RV"},{"p":1450,"e":0.09,"t":"RV"},{"p":1550,"e":0.27,"t":"RV"},{"p":1650,"e":0.14,"t":"RV"},{"p":1800,"e":0.23,"t":"RV"},{"p":2000,"e":0.11,"t":"RV"},{"p":2200,"e":0.06,"t":"RV"},{"p":2400,"e":0.16,"t":"RV"},{"p":2700,"e":0.12,"t":"RV"},{"p":2900,"e":0.26,"t":"RV"},{"p":3400,"e":0.17,"t":"RV"},{"p":3800,"e":0.1,"t":"RV"},{"p":4200,"e":0.25,"t":"RV"},{"p":160,"e":0.12,"t":"RV"},{"p":180,"e":0.22,"t":"RV"},{"p":130,"e":0.15,"t":"RV"},{"p":110,"e":0.07,"t":"RV"},{"p":100,"e":0.18,"t":"RV"},{"p":85,"e":0.1,"t":"RV"},{"p":75,"e":0.22,"t":"RV"},{"p":65,"e":0.06,"t":"RV"},
{"p":5,"e":0.2,"t":"RV"},{"p":8,"e":0.15,"t":"RV"},{"p":12,"e":0.25,"t":"RV"},{"p":15,"e":0.1,"t":"RV"},{"p":20,"e":0.3,"t":"RV"},{"p":25,"e":0.18,"t":"RV"},{"p":30,"e":0.08,"t":"RV"},{"p":35,"e":0.22,"t":"RV"},{"p":40,"e":0.14,"t":"RV"},{"p":50,"e":0.28,"t":"RV"},{"p":60,"e":0.12,"t":"RV"},{"p":70,"e":0.2,"t":"RV"},{"p":80,"e":0.05,"t":"RV"},{"p":90,"e":0.16,"t":"RV"},{"p":100,"e":0.25,"t":"RV"},{"p":120,"e":0.1,"t":"RV"},{"p":140,"e":0.2,"t":"RV"},{"p":160,"e":0.3,"t":"RV"},{"p":180,"e":0.06,"t":"RV"},{"p":45,"e":0.03,"t":"RV"},{"p":3,"e":0.15,"t":"RV"},{"p":4,"e":0.08,"t":"RV"},{"p":6,"e":0.12,"t":"RV"},{"p":10,"e":0.05,"t":"RV"},{"p":18,"e":0.04,"t":"RV"},{"p":28,"e":0.13,"t":"RV"},{"p":3.5,"e":0.03,"t":"RV"},{"p":2.2,"e":0.19,"t":"RV"},{"p":7,"e":0.25,"t":"RV"},
{"p":5,"e":0,"t":"RV"},{"p":10,"e":0,"t":"RV"},{"p":25,"e":0,"t":"RV"},{"p":40,"e":0,"t":"RV"},{"p":60,"e":0,"t":"RV"},{"p":100,"e":0,"t":"RV"},{"p":150,"e":0,"t":"RV"},{"p":300,"e":0,"t":"RV"},{"p":700,"e":0,"t":"RV"},{"p":4000,"e":0,"t":"RV"},{"p":8000,"e":0,"t":"RV"},
{"p":4800,"e":0.15,"t":"ML"},{"p":5300,"e":0,"t":"ML"},
{"p":500000,"e":0.87,"t":"IM"},{"p":11000,"e":0.45,"t":"IM"},{"p":6900,"e":0.26,"t":"IM"},{"p":7300,"e":0.08,"t":"IM"},
{"p":0.1,"e":0.056,"t":"TV"},{"p":0.35,"e":0,"t":"TV"},{"p":30,"e":0.21,"t":"TV"},{"p":1000,"e":0.5,"t":"TV"},{"p":4000,"e":0.51,"t":"TV"},{"p":4200,"e":0.4,"t":"TV"},{"p":9800,"e":0.39,"t":"TV"},{"p":690,"e":0.18,"t":"TV"},{"p":2800,"e":0.19,"t":"TV"},{"p":3100,"e":0.15,"t":"TV"},{"p":3200,"e":0.12,"t":"TV"},{"p":8700,"e":0.15,"t":"TV"},{"p":5300,"e":0.08,"t":"TV"},{"p":5500,"e":0.04,"t":"TV"},{"p":800,"e":0.15,"t":"TV"},{"p":1800,"e":0.045,"t":"TV"},{"p":4200,"e":0,"t":"TV"},{"p":2300,"e":0,"t":"TV"},{"p":1200,"e":0,"t":"TV"},{"p":74,"e":0,"t":"TV"},{"p":23,"e":0.06,"t":"TV"},{"p":63,"e":0.01,"t":"TV"},
{"p":260,"e":0.35,"t":"AS"}
]},
"hconcat":[
{"title":{"text":"Mass – Period Distribution","anchor":"middle","frame":"group","offset":2},
"width":353,"height":226,
"data":{"name":"mp"},
"layer":[
{"mark":{"type":"point","strokeWidth":1,"strokeOpacity":0.7,"fillOpacity":1},
"encoding":{
"x":{"field":"p","type":"quantitative","scale":{"type":"log","domain":[0.0368,282000000],"nice":false},
"axis":{"orient":"bottom","values":[0.04,0.05,0.06,0.07,0.08,0.09,0.1,0.2,0.3,0.4,0.5,0.6,0.7,0.8,0.9,1,2,3,4,5,6,7,8,9,10,20,30,40,50,60,70,80,90,100,200,300,400,500,600,700,800,900,1000,2000,3000,4000,5000,6000,7000,8000,9000,10000,20000,30000,40000,50000,60000,70000,80000,90000,100000,200000,300000,400000,500000,600000,700000,800000,900000,1000000,2000000,3000000,4000000,5000000,6000000,7000000,8000000,9000000,10000000,20000000,30000000,40000000,50000000,60000000,70000000,80000000,90000000,100000000,200000000],
"tickSize":{"condition":{"test":"abs(log(datum.value)/LN10 - round(log(datum.value)/LN10)) < 0.001","value":-7},"value":-3.5},
"labelExpr":"abs(log(datum.value)/LN10 - round(log(datum.value)/LN10)) > 0.001 ? '' : round(log(datum.value)/LN10) == -1 ? '0.1' : round(log(datum.value)/LN10) < 4 ? '' + round(datum.value) : '10' + ['⁴','⁵','⁶','⁷','⁸'][round(log(datum.value)/LN10) - 4]",
"labelPadding":12,"title":"Period [days]","titlePadding":12}},
"y":{"field":"m","type":"quantitative","scale":{"type":"log","domain":[0.000708,316],"nice":false},
"axis":{"orient":"left","values":[0.0008,0.0009,0.001,0.002,0.003,0.004,0.005,0.006,0.007,0.008,0.009,0.01,0.02,0.03,0.04,0.05,0.06,0.07,0.08,0.09,0.1,0.2,0.3,0.4,0.5,0.6,0.7,0.8,0.9,1,2,3,4,5,6,7,8,9,10,20,30,40,50,60,70,80,90,100,200,300],
"tickSize":{"condition":{"test":"abs(log(datum.value)/LN10 - round(log(datum.value)/LN10)) < 0.001","value":-7},"value":-3.5},
"labelExpr":"abs(log(datum.value)/LN10 - round(log(datum.value)/LN10)) > 0.001 ? '' : round(log(datum.value)/LN10) == -3 ? '10⁻³' : round(log(datum.value)/LN10) == -2 ? '0.01' : round(log(datum.value)/LN10) == -1 ? '0.1' : '' + round(datum.value)",
"labelAngle":-90,"labelAlign":"center","labelBaseline":"bottom","labelPadding":12,"title":"Mass [Jupiter Masses]","titlePadding":6}},
"stroke":{"field":"t","type":"nominal","scale":{"domain":["RV","TR","ML","IM","TV","OB","AS"],"range":["#ff1a1a","#2e8b57","#a020f0","#0000ff","#d9c27c","#ff8000","#a0a0a0"]},
"legend":{"orient":"none","legendX":214,"legendY":96,"title":null,"padding":0,"rowPadding":-1.3,"labelFontSize":13.5,"labelFont":"Liberation Sans","labelOffset":1,"labelLimit":300,"symbolStrokeWidth":1,
"labelExpr":"datum.value == 'RV' ? 'Radial Velocity' : datum.value == 'TR' ? 'Transits' : datum.value == 'ML' ? 'Microlensing' : datum.value == 'IM' ? 'Imaging' : datum.value == 'TV' ? 'Timing Variations' : datum.value == 'OB' ? ['Orbital Brightness','Modulation'] : 'Astrometry'",
"labelColor":{"expr":"datum.value == 'RV' ? '#ff1a1a' : datum.value == 'TR' ? '#2e8b57' : datum.value == 'ML' ? '#a020f0' : datum.value == 'IM' ? '#0000ff' : datum.value == 'TV' ? '#d9c27c' : datum.value == 'OB' ? '#ff8000' : '#a0a0a0'"}}},
"fill":{"field":"t","type":"nominal","scale":{"domain":["RV","TR","ML","IM","TV","OB","AS"],"range":["transparent","transparent","#a020f0","#0000ff","#d9c27c","#ff8000","#a0a0a0"]}},
"shape":{"field":"t","type":"nominal","scale":{"domain":["RV","TR","ML","IM","TV","OB","AS"],"range":["circle","square","triangle-up","M0,-1L0.235,-0.324L0.951,-0.309L0.38,0.124L0.588,0.809L0,0.4L-0.588,0.809L-0.38,0.124L-0.951,-0.309L-0.235,-0.324Z","M0,-1L0.951,-0.309L0.588,0.809L-0.588,0.809L-0.951,-0.309Z","square","circle"]}},
"size":{"field":"t","type":"nominal","scale":{"domain":["RV","TR","ML","IM","TV","OB","AS"],"range":[16,25,22,49,36,6,9]}}
}},
{"mark":{"type":"point","opacity":0},
"encoding":{
"x":{"field":"p","type":"quantitative","scale":{"type":"log","domain":[0.0368,282000000],"nice":false},
"axis":{"orient":"top","values":[0.04,0.05,0.06,0.07,0.08,0.09,0.1,0.2,0.3,0.4,0.5,0.6,0.7,0.8,0.9,1,2,3,4,5,6,7,8,9,10,20,30,40,50,60,70,80,90,100,200,300,400,500,600,700,800,900,1000,2000,3000,4000,5000,6000,7000,8000,9000,10000,20000,30000,40000,50000,60000,70000,80000,90000,100000,200000,300000,400000,500000,600000,700000,800000,900000,1000000,2000000,3000000,4000000,5000000,6000000,7000000,8000000,9000000,10000000,20000000,30000000,40000000,50000000,60000000,70000000,80000000,90000000,100000000,200000000],
"tickSize":{"condition":{"test":"abs(log(datum.value)/LN10 - round(log(datum.value)/LN10)) < 0.001","value":-7},"value":-3.5},
"labels":false,"title":["24 Oct 2019","exoplanetarchive.ipac.caltech.edu"],"titleAnchor":"end","titleAlign":"right","titleFontSize":6.5,"titleFontWeight":"bold","titleLineHeight":7,"titlePadding":4}},
"y":{"field":"m","type":"quantitative","scale":{"type":"log","domain":[0.000708,316],"nice":false},
"axis":{"orient":"right","values":[0.0008,0.0009,0.001,0.002,0.003,0.004,0.005,0.006,0.007,0.008,0.009,0.01,0.02,0.03,0.04,0.05,0.06,0.07,0.08,0.09,0.1,0.2,0.3,0.4,0.5,0.6,0.7,0.8,0.9,1,2,3,4,5,6,7,8,9,10,20,30,40,50,60,70,80,90,100,200,300],
"tickSize":{"condition":{"test":"abs(log(datum.value)/LN10 - round(log(datum.value)/LN10)) < 0.001","value":-7},"value":-3.5},
"labels":false,"title":null}}
}}
],
"resolve":{"axis":{"x":"independent","y":"independent"}}
},
{"title":{"text":"Eccentricity – Period Distribution","anchor":"middle","frame":"group","offset":2},
"width":353,"height":226,
"data":{"name":"ep"},
"layer":[
{"mark":{"type":"point","strokeWidth":1,"strokeOpacity":0.7,"fillOpacity":1},
"encoding":{
"x":{"field":"p","type":"quantitative","scale":{"type":"log","domain":[0.0465,11700000],"nice":false},
"axis":{"orient":"bottom","values":[0.05,0.06,0.07,0.08,0.09,0.1,0.2,0.3,0.4,0.5,0.6,0.7,0.8,0.9,1,2,3,4,5,6,7,8,9,10,20,30,40,50,60,70,80,90,100,200,300,400,500,600,700,800,900,1000,2000,3000,4000,5000,6000,7000,8000,9000,10000,20000,30000,40000,50000,60000,70000,80000,90000,100000,200000,300000,400000,500000,600000,700000,800000,900000,1000000,2000000,3000000,4000000,5000000,6000000,7000000,8000000,9000000,10000000],
"tickSize":{"condition":{"test":"abs(log(datum.value)/LN10 - round(log(datum.value)/LN10)) < 0.001","value":-7},"value":-3.5},
"labelExpr":"abs(log(datum.value)/LN10 - round(log(datum.value)/LN10)) > 0.001 ? '' : round(log(datum.value)/LN10) == -1 ? '0.1' : round(log(datum.value)/LN10) < 4 ? '' + round(datum.value) : '10' + ['⁴','⁵','⁶','⁷','⁸'][round(log(datum.value)/LN10) - 4]",
"labelPadding":12,"title":"Period [days]","titlePadding":12}},
"y":{"field":"e","type":"quantitative","scale":{"domain":[-0.05,1.04],"nice":false,"zero":false},
"axis":{"orient":"left","values":[0,0.1,0.2,0.3,0.4,0.5,0.6,0.7,0.8,0.9,1],
"tickSize":{"condition":{"test":"datum.value == 0 || datum.value == 0.5 || datum.value == 1","value":-7},"value":-3.5},
"labelExpr":"datum.value == 0 ? '0' : datum.value == 0.5 ? '0.5' : datum.value == 1 ? '1' : ''",
"labelAngle":-90,"labelAlign":"center","labelBaseline":"bottom","labelPadding":12,"title":"Eccentricity","titlePadding":6}},
"stroke":{"field":"t","type":"nominal","scale":{"domain":["RV","TR","ML","IM","TV","AS"],"range":["#ff1a1a","#2e8b57","#a020f0","#0000ff","#d9c27c","#a0a0a0"]},
"legend":{"orient":"none","legendX":218,"legendY":10,"title":null,"padding":0,"rowPadding":-1.3,"labelFontSize":13.5,"labelFont":"Liberation Sans","labelOffset":1,"labelLimit":300,"symbolStrokeWidth":1,
"labelExpr":"datum.value == 'RV' ? 'Radial Velocity' : datum.value == 'TR' ? 'Transits' : datum.value == 'ML' ? 'Microlensing' : datum.value == 'IM' ? 'Imaging' : datum.value == 'TV' ? 'Timing Variations' : 'Astrometry'",
"labelColor":{"expr":"datum.value == 'RV' ? '#ff1a1a' : datum.value == 'TR' ? '#2e8b57' : datum.value == 'ML' ? '#a020f0' : datum.value == 'IM' ? '#0000ff' : datum.value == 'TV' ? '#d9c27c' : '#a0a0a0'"}}},
"fill":{"field":"t","type":"nominal","scale":{"domain":["RV","TR","ML","IM","TV","AS"],"range":["transparent","transparent","#a020f0","#0000ff","#d9c27c","#a0a0a0"]}},
"shape":{"field":"t","type":"nominal","scale":{"domain":["RV","TR","ML","IM","TV","AS"],"range":["circle","square","triangle-up","M0,-1L0.235,-0.324L0.951,-0.309L0.38,0.124L0.588,0.809L0,0.4L-0.588,0.809L-0.38,0.124L-0.951,-0.309L-0.235,-0.324Z","M0,-1L0.951,-0.309L0.588,0.809L-0.588,0.809L-0.951,-0.309Z","circle"]}},
"size":{"field":"t","type":"nominal","scale":{"domain":["RV","TR","ML","IM","TV","AS"],"range":[16,25,22,49,36,9]}}
}},
{"mark":{"type":"point","opacity":0},
"encoding":{
"x":{"field":"p","type":"quantitative","scale":{"type":"log","domain":[0.0465,11700000],"nice":false},
"axis":{"orient":"top","values":[0.05,0.06,0.07,0.08,0.09,0.1,0.2,0.3,0.4,0.5,0.6,0.7,0.8,0.9,1,2,3,4,5,6,7,8,9,10,20,30,40,50,60,70,80,90,100,200,300,400,500,600,700,800,900,1000,2000,3000,4000,5000,6000,7000,8000,9000,10000,20000,30000,40000,50000,60000,70000,80000,90000,100000,200000,300000,400000,500000,600000,700000,800000,900000,1000000,2000000,3000000,4000000,5000000,6000000,7000000,8000000,9000000,10000000],
"tickSize":{"condition":{"test":"abs(log(datum.value)/LN10 - round(log(datum.value)/LN10)) < 0.001","value":-7},"value":-3.5},
"labels":false,"title":["24 Oct 2019","exoplanetarchive.ipac.caltech.edu"],"titleAnchor":"end","titleAlign":"right","titleFontSize":6.5,"titleFontWeight":"bold","titleLineHeight":7,"titlePadding":4}},
"y":{"field":"e","type":"quantitative","scale":{"domain":[-0.05,1.04],"nice":false,"zero":false},
"axis":{"orient":"right","values":[0,0.1,0.2,0.3,0.4,0.5,0.6,0.7,0.8,0.9,1],
"tickSize":{"condition":{"test":"datum.value == 0 || datum.value == 0.5 || datum.value == 1","value":-7},"value":-3.5},
"labels":false,"title":null}}
}}
],
"resolve":{"axis":{"x":"independent","y":"independent"}}
}
],
"resolve":{"scale":{"stroke":"independent","fill":"independent","shape":"independent","size":"independent"},"legend":{"stroke":"independent","fill":"independent","shape":"independent","size":"independent"}}
}
